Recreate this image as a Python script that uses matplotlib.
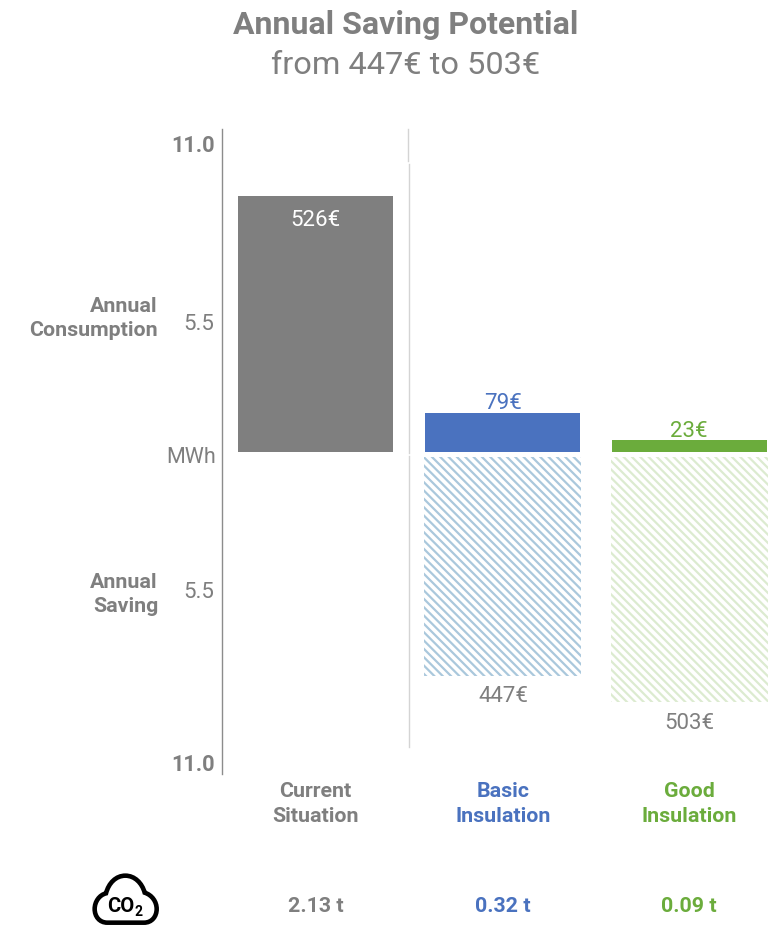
import matplotlib
matplotlib.use("Agg")
import matplotlib.pyplot as plt
from matplotlib.patches import PathPatch
from matplotlib.path import Path

plt.rcParams['font.family'] = ['Roboto', 'DejaVu Sans']
plt.rcParams['hatch.linewidth'] = 1.6

W, H = 776, 929
GREY = '#7f7f7f'
BLUE = '#4a72bf'
GREEN = '#6bac3c'
HATCH_BLUE = '#aac8dc'
HATCH_GREEN = '#dcebd0'
BOLD_SIZE = 15.4
REGULAR_SIZE = 16

scenarios = ['Current\nSituation', 'Basic\nInsulation', 'Good\nInsulation']
consumption = [9.09, 1.36, 0.40]
saving = [None, 7.78, 8.73]
consumption_labels = ['526€', '79€', '23€']
saving_labels = [None, '447€', '503€']
co2_labels = ['2.13 t', '0.32 t', '0.09 t']
scenario_colors = [GREY, BLUE, GREEN]
hatch_colors = [None, HATCH_BLUE, HATCH_GREEN]

fig = plt.figure(figsize=(W / 100, H / 100), dpi=100)
fig.patch.set_facecolor('white')


def px_axes(x0, y0, x1, y1):
    """Axes placed by pixel box, measured from the top-left corner."""
    ax = fig.add_axes([x0 / W, 1 - y1 / H, (x1 - x0) / W, (y1 - y0) / H])
    ax.axis('off')
    return ax


def label(x, y, s, bold=False, **kw):
    kw.setdefault('ha', 'center')
    kw.setdefault('va', 'center_baseline')
    kw.setdefault('color', GREY)
    kw.setdefault('fontsize', BOLD_SIZE if bold else REGULAR_SIZE)
    fig.text(x / W, 1 - y / H, s, fontweight='bold' if bold else 'normal', **kw)


PX_PER_MWH = 28.1
SLOT_PX = 187
X_START = -(315.5 - 234) / SLOT_PX

top = px_axes(234, 130, 776, 452.5)
top.set_xlim(X_START, X_START + (776 - 234) / SLOT_PX)
top.set_ylim(0, 322.5 / PX_PER_MWH)
bottom = px_axes(234, 458, 776, 775)
bottom.set_xlim(top.get_xlim())
bottom.set_ylim(317 / PX_PER_MWH, 0)

for i, v in enumerate(consumption):
    top.bar(i, v, width=0.832, color=scenario_colors[i], linewidth=0)

for i, v in enumerate(saving):
    if v is not None:
        bottom.bar(i, v, width=0.84, facecolor='white', edgecolor=hatch_colors[i],
                   hatch='\\\\\\\\', linewidth=0)

# Axis rule on the left and the light separator after the first column
fig.add_artist(plt.Line2D([221.7 / W] * 2, [1 - 130 / H, 1 - 775 / H], color='#8c8c8c', lw=1.0))
for x, y0, y1 in [(408.3, 130, 162), (409.3, 165, 454), (409.3, 457, 748)]:
    fig.add_artist(plt.Line2D([x / W] * 2, [1 - y0 / H, 1 - y1 / H], color='#d4d4d4', lw=1.0))

# Titles
label(405.5, 22.5, 'Annual Saving Potential', bold=True, fontsize=23)
label(405.5, 62, 'from 447€ to 503€', fontsize=23.4)

# Axis labels
label(214.5, 143, '11.0', bold=True, ha='right', fontsize=15.7)
label(214.5, 322, '5.5', ha='right')
label(216.5, 455, 'MWh', ha='right', fontsize=15.5)
label(214.5, 590, '5.5', ha='right')
label(214.5, 763, '11.0', bold=True, ha='right', fontsize=15.7)
label(158, 304, 'Annual', bold=True, ha='right')
label(158, 329, 'Consumption', bold=True, ha='right')
label(158, 581, 'Annual', bold=True, ha='right')
label(158, 605, 'Saving', bold=True, ha='right')

# Value labels
centers = [315.5, 503, 689]
label(centers[0], 218, consumption_labels[0], color='white')
label(centers[1], 401, consumption_labels[1], color=BLUE)
label(centers[2], 429, consumption_labels[2], color=GREEN)
label(centers[1], 694, saving_labels[1])
label(centers[2], 721, saving_labels[2])

# Scenario names and CO2 figures
for c, name, co2, col in zip(centers, scenarios, co2_labels, scenario_colors):
    a, b = name.split('\n')
    label(c, 790, a, bold=True, color=col)
    label(c, 815, b, bold=True, color=col)
    label(c, 905, co2, bold=True, color=col)

# Cloud icon, outlined in its own small pixel frame
icon = px_axes(70, 860, 180, 929)
icon.set_xlim(0, 330)
icon.set_ylim(207, 0)
verts = [
    (112, 191),
    (88, 191), (74, 172), (74, 150),
    (74, 128), (88, 108), (108, 103),
    (116, 72), (138, 50), (166, 50),
    (194, 50), (216, 72), (224, 101),
    (246, 108), (260, 128), (260, 150),
    (260, 172), (246, 191), (222, 191),
    (112, 191),
]
codes = [Path.MOVETO] + [Path.CURVE4] * 18 + [Path.CLOSEPOLY]
icon.add_patch(PathPatch(Path(verts, codes), facecolor='white', edgecolor='black', lw=3.3))
icon.text(153, 141, 'CO', ha='center', va='center', fontsize=14.5, fontweight='bold', color='black')
icon.text(205, 155, '2', ha='center', va='center', fontsize=10, fontweight='bold', color='black')

fig.savefig('out.png', dpi=100, facecolor='white')
